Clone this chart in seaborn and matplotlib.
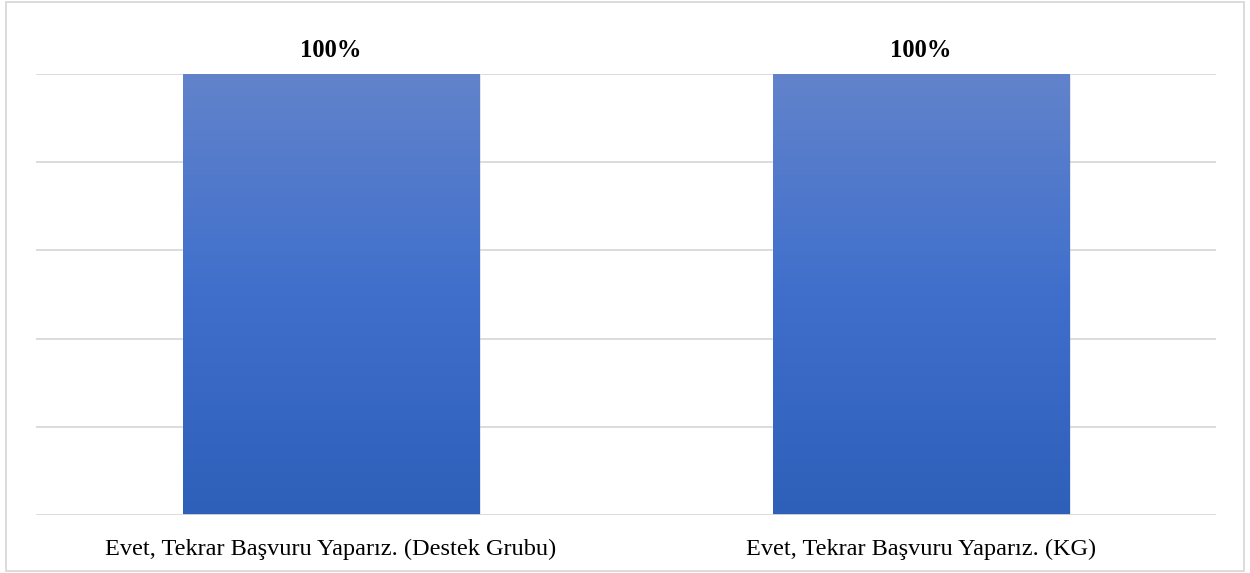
import matplotlib
matplotlib.use("Agg")
import matplotlib.pyplot as plt
import seaborn as sns
import numpy as np
import pandas as pd
from matplotlib.colors import LinearSegmentedColormap
from matplotlib.patches import Rectangle

categories = ["Evet, Tekrar Başvuru Yaparız. (Destek Grubu)", "Evet, Tekrar Başvuru Yaparız. (KG)"]
values = [100, 100]
value_labels = ["100%", "100%"]

sns.set_theme(style="white")
plt.rcParams['font.family'] = ['Liberation Serif', 'DejaVu Serif']

fig = plt.figure(figsize=(12.5, 5.73), dpi=100)
ax = fig.add_axes([36/1250, 1-515/573, 1180/1250, (515-74)/573])

df = pd.DataFrame({"cat": categories, "val": values})
sns.barplot(data=df, x="cat", y="val", ax=ax, color="#4472C4", width=0.502, saturation=1)

ax.set_ylim(0, 100)
ax.set_xlim(-0.5, 1.5)
for y in [20, 40, 60, 80, 100]:
    ax.axhline(y, color="#D9D9D9", lw=1.3, zorder=0)
ax.axhline(0, color="#D9D9D9", lw=1.3, zorder=3)

cmap = LinearSegmentedColormap.from_list("g", ["#2E5FB9", "#3F6FCB", "#6283CC"])
grad = np.linspace(0, 1, 256).reshape(-1, 1)
for p, lab in zip(ax.patches, value_labels):
    x0, w, h = p.get_x(), p.get_width(), p.get_height()
    sh = Rectangle((x0 + 0.004, 0), w, h - 0.3, facecolor="#000000", alpha=0.12, zorder=1, edgecolor="none")
    ax.add_patch(sh)
    im = ax.imshow(grad, extent=[x0, x0 + w, 0, h], origin="lower", cmap=cmap, aspect="auto", zorder=2)
    im.set_clip_path(p)
    p.set_facecolor("none")
    p.set_zorder(2)
    ax.text(x0 + w / 2, h + 2.8, lab, ha="center", va="bottom", fontsize=17.7, fontweight="bold", color="#000000", clip_on=False)

ax.set_xlabel("")
ax.set_ylabel("")
ax.set_yticks([])
ax.tick_params(axis="x", length=0, pad=17, labelsize=17.5, colors="#000000")
for s in ax.spines.values():
    s.set_visible(False)

fig.patches.append(Rectangle((6/1250, 2/573), 1238/1250, 569/573, transform=fig.transFigure,
                             fill=False, edgecolor="#D9D9D9", lw=1.3))

fig.savefig("out.png", dpi=100)
